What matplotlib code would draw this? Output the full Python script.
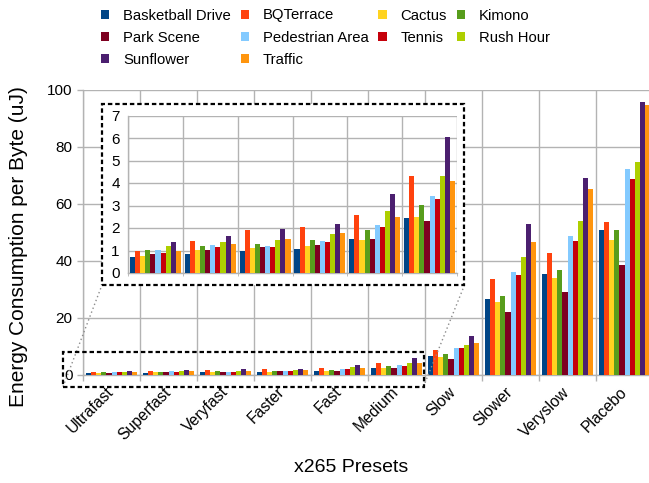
import matplotlib
matplotlib.use("Agg")
import matplotlib.pyplot as plt
from matplotlib.patches import Rectangle, Patch
from matplotlib.lines import Line2D
import numpy as np

plt.rcParams['font.family'] = ['Liberation Sans', 'DejaVu Sans']

presets = ['Ultrafast', 'Superfast', 'Veryfast', 'Faster', 'Fast', 'Medium',
           'Slow', 'Slower', 'Veryslow', 'Placebo']
series_names = ['Basketball Drive', 'BQTerrace', 'Cactus', 'Kimono', 'Park Scene',
                'Pedestrian Area', 'Tennis', 'Rush Hour', 'Sunflower', 'Traffic']
colors = ['#004586', '#ff420e', '#ffd320', '#579d1c', '#7e0021',
          '#83caff', '#c5000b', '#aecf00', '#4b1f6f', '#ff950e']

basketball_drive = [0.71, 0.85, 0.98, 1.07, 1.52, 2.46, 6.5, 26.5, 35.3, 50.8]
bqterrace        = [0.98, 1.43, 1.92, 2.06, 2.59, 4.33, 8.7, 33.6, 42.7, 53.6]
cactus           = [0.76, 1.01, 1.12, 1.21, 1.47, 2.50, 6.2, 25.5, 33.9, 47.3]
kimono           = [1.03, 1.21, 1.30, 1.47, 1.92, 3.04, 7.3, 27.6, 36.7, 50.8]
park_scene       = [0.85, 1.03, 1.16, 1.25, 1.52, 2.32, 5.5, 22.0, 29.0, 38.5]
pedestrian_area  = [1.03, 1.25, 1.21, 1.43, 2.14, 3.44, 9.4, 36.0, 48.7, 72.2]
tennis           = [0.89, 1.16, 1.16, 1.39, 2.06, 3.30, 9.4, 35.0, 46.9, 68.7]
rush_hour        = [1.21, 1.39, 1.47, 1.74, 2.77, 4.33, 10.4, 41.3, 53.9, 74.6]
sunflower        = [1.39, 1.65, 1.97, 2.19, 3.53, 6.03, 13.6, 52.9, 69.0, 95.7]
traffic          = [0.98, 1.30, 1.52, 1.79, 2.50, 4.07, 11.1, 46.5, 65.1, 94.6]

series = [basketball_drive, bqterrace, cactus, kimono, park_scene,
          pedestrian_area, tennis, rush_hour, sunflower, traffic]

main_yticks = [0, 20, 40, 60, 80, 100]
inset_presets = 6
inset_yticks = [0, 1, 2, 3, 4, 5, 6, 7]

W, H = 649, 483
GRID = '#b3b3b3'
fig = plt.figure(figsize=(W / 100, H / 100), dpi=100)


def fx(px):
    return px / W


def fy(py):
    return 1 - py / H


# ---- main axes
ax = fig.add_axes([fx(83), fy(375), fx(653) - fx(83), fy(89.5) - fy(375)])
ax.set_zorder(0)
n = len(presets)
x = np.arange(n)
bw = 0.091
for j, (vals, c) in enumerate(zip(series, colors)):
    ax.bar(x + (j - 4.5) * bw, vals, width=bw, color=c, linewidth=0, zorder=3)
ax.set_xlim(-0.5, n - 0.5)
ax.set_ylim(0, 100)
ax.set_yticks(main_yticks)
ax.set_xticks(x)
ax.set_xticklabels(presets, rotation=45, ha='right', va='center',
                   rotation_mode='anchor', fontsize=11.3)
ax.set_xticks(np.arange(-0.5, n, 1.0), minor=True)
ax.tick_params(axis='x', which='major', length=0, pad=10.5)
ax.tick_params(axis='x', which='minor', length=4, color=GRID, width=1)
ax.tick_params(axis='y', length=4.5, color=GRID, width=1, pad=3, labelsize=11)
ax.grid(axis='y', which='major', color=GRID, linewidth=1, zorder=0)
ax.grid(axis='x', which='minor', color=GRID, linewidth=1, zorder=0)
ax.set_axisbelow(True)
for s in ['top', 'right']:
    ax.spines[s].set_visible(False)
for s in ['left', 'bottom']:
    ax.spines[s].set_color(GRID)
    ax.spines[s].set_linewidth(1)
fig.text(fx(19), fy(246.5), 'Energy Consumption per Byte (uJ)', fontsize=15,
         rotation=90, ha='center', va='center')
fig.text(fx(351), fy(467), 'x265 Presets', fontsize=14, ha='center', va='center')

# ---- small dashed box on main axes (marks zoomed region)
dash = (0, (2.0, 1.3))
small_box = Rectangle((fx(63), fy(386.7)), fx(423.5) - fx(63), fy(352.3) - fy(386.7),
                      transform=fig.transFigure, fill=False, edgecolor='black',
                      linewidth=1.6, linestyle=dash, zorder=2)
fig.add_artist(small_box)

# ---- inset frame
inset_box = Rectangle((fx(102), fy(285)), fx(464.5) - fx(102), fy(104) - fy(285),
                      transform=fig.transFigure, facecolor='white', edgecolor='black',
                      linewidth=1.6, linestyle=dash, zorder=2)
fig.add_artist(inset_box)

# connectors
for (x0, y0, x1, y1) in [(63, 386.7, 102, 285), (423.5, 386.7, 464.5, 285)]:
    fig.add_artist(Line2D([fx(x0), fx(x1)], [fy(y0), fy(y1)], transform=fig.transFigure,
                          color='#8c8c8c', linewidth=1, linestyle=(0, (1, 2)), zorder=1.5))

# ---- inset axes
axi = fig.add_axes([fx(128), fy(273), fx(457) - fx(128), fy(115.5) - fy(273)])
axi.set_zorder(3)
axi.patch.set_alpha(0)
xi = np.arange(inset_presets)
bwi = 0.093
for j, (vals, c) in enumerate(zip(series, colors)):
    axi.bar(xi + (j - 4.5) * bwi, vals[:inset_presets], width=bwi, color=c,
            linewidth=0, zorder=3)
axi.set_xlim(-0.5, inset_presets - 0.5)
axi.set_ylim(0, 7)
axi.set_yticks(inset_yticks)
axi.set_xticks([])
axi.set_xticks(np.arange(-0.5, inset_presets, 1.0), minor=True)
axi.tick_params(axis='x', which='minor', length=2, color=GRID, labelbottom=False)
axi.tick_params(axis='y', length=0, pad=6, labelsize=11)
axi.grid(axis='y', color=GRID, linewidth=1, zorder=0)
axi.grid(axis='x', which='minor', color=GRID, linewidth=1, zorder=0)
axi.set_axisbelow(True)
for s in ['top', 'right']:
    axi.spines[s].set_visible(False)
for s in ['left', 'bottom']:
    axi.spines[s].set_color(GRID)
    axi.spines[s].set_linewidth(1)

# ---- legend (row-major order in reference, 4 columns)
handles = {nm: Patch(facecolor=c, edgecolor='none') for nm, c in zip(series_names, colors)}
order = ['Basketball Drive', 'Park Scene', 'Sunflower',
         'BQTerrace', 'Pedestrian Area', 'Traffic',
         'Cactus', 'Tennis',
         'Kimono', 'Rush Hour']
fig.legend([handles[k] for k in order], order, ncol=4, loc='upper left',
           bbox_to_anchor=(fx(101), fy(8.5)), frameon=False, fontsize=10.7,
           handlelength=0.55, handleheight=0.55, handletextpad=0.95,
           columnspacing=0.65, labelspacing=0.55, borderpad=0, borderaxespad=0)

fig.savefig('out.png', dpi=100)
